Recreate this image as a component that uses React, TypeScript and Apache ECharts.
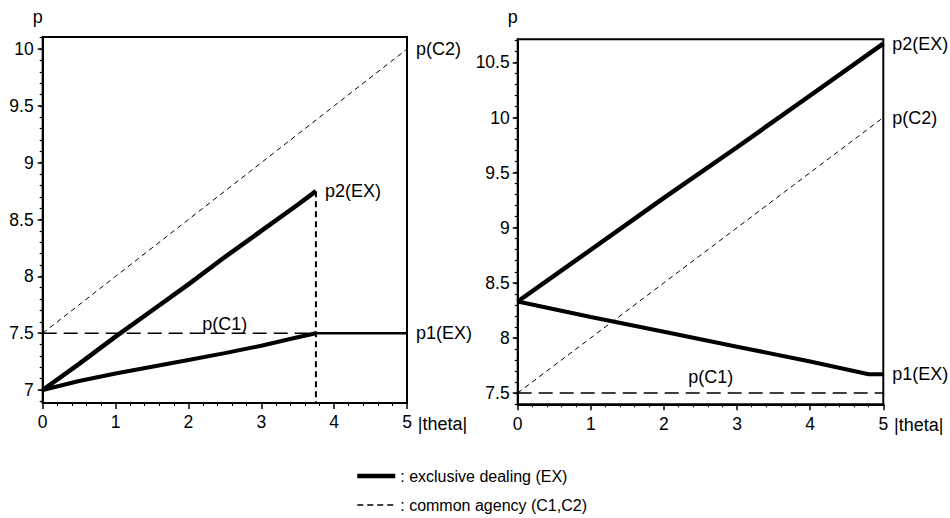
import React, { useEffect, useRef } from "react";
import * as echarts from "echarts";

const FONT = "'Liberation Sans', Arial, Helvetica, sans-serif";
const EX_NAME = "exclusive dealing (EX)";
const CA_NAME = "common agency (C1,C2)";

// ---------- data: left panel ----------
const thetaLeftEx = [0, 0.5, 1, 1.5, 2, 2.5, 3, 3.5, 3.75];
const p2ExLeft = [7.0, 7.23, 7.47, 7.7, 7.93, 8.17, 8.4, 8.63, 8.75];
const p1ExLeft = [7.0, 7.08, 7.145, 7.205, 7.265, 7.325, 7.39, 7.465, 7.5];
const thetaLeftFlat = [3.75, 5];
const p1ExLeftFlat = [7.5, 7.5];
const thetaC2 = [0, 1, 2, 3, 4, 5];
const pC2Left = [7.5, 8.0, 8.5, 9.0, 9.5, 10.0];
const thetaC1Left = [0, 3.75];
const pC1Left = [7.5, 7.5];
const C1_LABEL_THETA_LEFT = 2.5;

// ---------- data: right panel ----------
const thetaP2Right = [0, 1, 2, 3, 4, 5];
const p2ExRight = [8.33, 8.8, 9.27, 9.73, 10.2, 10.67];
const thetaP1Right = [0, 1, 2, 3, 4, 4.8, 5];
const p1ExRight = [8.33, 8.19, 8.055, 7.92, 7.785, 7.67, 7.67];
const pC2Right = [7.5, 8.0, 8.5, 9.0, 9.5, 10.0];
const thetaC1Right = [0, 5];
const pC1Right = [7.5, 7.5];
const C1_LABEL_THETA_RIGHT = 2.64;

// ---------- axes ----------
const xTicks = [0, 1, 2, 3, 4, 5];
const leftYTicks = [7, 7.5, 8, 8.5, 9, 9.5, 10];
const rightYTicks = [7.5, 8, 8.5, 9, 9.5, 10, 10.5];
const LEFT_Y = { min: 6.886, max: 10.106 };
const RIGHT_Y = { min: 7.397, max: 10.71 };

const zip = (xs: number[], ys: number[]) => xs.map((x, i) => [x, ys[i]]);
const minorValues = (min: number, max: number) => {
  const out: number[] = [];
  for (let k = Math.ceil(min * 10); k <= Math.floor(max * 10); k++) out.push(k / 10);
  return out;
};

const txt = { color: "#000", fontFamily: FONT, fontSize: 18 };
const tickTxt = { color: "#000", fontFamily: FONT, fontSize: 17.5 };

function endLabel(text: string) {
  return { show: true, formatter: text, distance: 9, ...txt };
}

export default function App() {
  const ref = useRef<HTMLDivElement>(null);
  useEffect(() => {
    if (!ref.current) return;
    const chart = echarts.init(ref.current, null, { renderer: "svg" });

    const xAxisBase = (gridIndex: number, nameGap: number, margin: number) => ({
      type: "value",
      gridIndex,
      min: 0,
      max: 5,
      interval: 1,
      name: "|theta|",
      nameLocation: "end",
      nameGap,
      nameTextStyle: { ...txt, align: "left", verticalAlign: "top", padding: [12, 0, 0, 0] },
      axisLine: { show: true, onZero: false, lineStyle: { color: "#000", width: 2 } },
      axisTick: { show: true, length: 6, lineStyle: { color: "#000", width: 1.5 } },
      minorTick: { show: true, splitNumber: 5, length: 3, lineStyle: { color: "#000", width: 1 } },
      axisLabel: { ...tickTxt, margin, formatter: (v: number) => String(v), customValues: xTicks },
      splitLine: { show: false },
    });

    const yMain = (gridIndex: number, range: { min: number; max: number }, ticks: number[], nameGap: number, margin: number) => ({
      type: "value",
      gridIndex,
      position: "left",
      min: range.min,
      max: range.max,
      name: "p",
      nameLocation: "end",
      nameGap,
      nameTextStyle: { ...txt, align: "right" },
      axisLine: { show: true, onZero: false, lineStyle: { color: "#000", width: 2 } },
      axisTick: { show: true, length: 5, customValues: ticks, lineStyle: { color: "#000", width: 1.5 } },
      axisLabel: { ...tickTxt, margin, customValues: ticks, formatter: (v: number) => String(v) },
      splitLine: { show: false },
    });

    const yMinor = (gridIndex: number, range: { min: number; max: number }) => ({
      type: "value",
      gridIndex,
      position: "left",
      min: range.min,
      max: range.max,
      axisLine: { show: false },
      axisTick: { show: true, length: 3, customValues: minorValues(range.min, range.max), lineStyle: { color: "#000", width: 1.2 } },
      axisLabel: { show: false },
      splitLine: { show: false },
    });

    const base = { type: "line", symbol: "none", showSymbol: false, silent: true, z: 3, color: "#000", itemStyle: { color: "#000" } };

    const option = {
      animation: false,
      backgroundColor: "#fff",
      color: ["#000"],
      textStyle: { fontFamily: FONT },
      grid: [
        { left: 42.7, top: 37, width: 364.3, height: 366, show: true, borderColor: "#000", borderWidth: 2, backgroundColor: "transparent" },
        { left: 517.7, top: 39.3, width: 365.6, height: 365, show: true, borderColor: "#000", borderWidth: 2, backgroundColor: "transparent" },
      ],
      xAxis: [xAxisBase(0, 8, 10), xAxisBase(1, 4, 11)],
      yAxis: [
        yMain(0, LEFT_Y, leftYTicks, 11, 9),
        yMain(1, RIGHT_Y, rightYTicks, 13, 8),
        yMinor(0, LEFT_Y),
        yMinor(1, RIGHT_Y),
      ],
      legend: {
        orient: "vertical",
        left: 355,
        top: 468,
        padding: 0,
        itemWidth: 38,
        itemHeight: 14,
        itemGap: 13,
        selectedMode: false,
        formatter: (n: string) => ": " + n,
        textStyle: { color: "#000", fontFamily: FONT, fontSize: 16, lineHeight: 14 },
        data: [
          { name: EX_NAME, lineStyle: { width: 4.5, type: "solid", color: "#000" }, itemStyle: { opacity: 0 } },
          { name: CA_NAME, lineStyle: { width: 1.5, type: [6, 4], color: "#000" }, itemStyle: { opacity: 0 } },
        ],
      },
      series: [
        // ---------- left panel ----------
        {
          ...base, name: EX_NAME, xAxisIndex: 0, yAxisIndex: 0,
          data: zip(thetaLeftEx, p2ExLeft),
          lineStyle: { color: "#000", width: 4.5 },
          endLabel: endLabel("p2(EX)"),
        },
        {
          ...base, name: EX_NAME, xAxisIndex: 0, yAxisIndex: 0,
          data: zip(thetaLeftEx, p1ExLeft),
          lineStyle: { color: "#000", width: 4 },
        },
        {
          ...base, name: EX_NAME, xAxisIndex: 0, yAxisIndex: 0,
          data: zip(thetaLeftFlat, p1ExLeftFlat),
          lineStyle: { color: "#000", width: 2.5 },
          endLabel: endLabel("p1(EX)"),
        },
        {
          ...base, name: CA_NAME, xAxisIndex: 0, yAxisIndex: 0,
          data: zip(thetaC2, pC2Left),
          lineStyle: { color: "#000", width: 1, type: [5, 4] },
          endLabel: endLabel("p(C2)"),
        },
        {
          ...base, name: CA_NAME, xAxisIndex: 0, yAxisIndex: 0,
          data: zip(thetaC1Left, pC1Left),
          lineStyle: { color: "#000", width: 1.5, type: [14, 7] },
          markPoint: {
            symbol: "circle", symbolSize: 0, silent: true,
            label: { show: true, formatter: "p(C1)", position: "top", distance: 0, ...txt },
            data: [{ coord: [C1_LABEL_THETA_LEFT, pC1Left[0]] }],
          },
        },
        {
          ...base, name: "cut", xAxisIndex: 0, yAxisIndex: 0,
          data: [
            [thetaLeftEx[thetaLeftEx.length - 1], p2ExLeft[p2ExLeft.length - 1]],
            [thetaLeftEx[thetaLeftEx.length - 1], LEFT_Y.min],
          ],
          lineStyle: { color: "#000", width: 2, type: [6, 4] },
        },
        // ---------- right panel ----------
        {
          ...base, name: EX_NAME, xAxisIndex: 1, yAxisIndex: 1,
          data: zip(thetaP2Right, p2ExRight),
          lineStyle: { color: "#000", width: 4.5 },
          endLabel: endLabel("p2(EX)"),
        },
        {
          ...base, name: EX_NAME, xAxisIndex: 1, yAxisIndex: 1,
          data: zip(thetaP1Right, p1ExRight),
          lineStyle: { color: "#000", width: 4 },
          endLabel: endLabel("p1(EX)"),
        },
        {
          ...base, name: CA_NAME, xAxisIndex: 1, yAxisIndex: 1,
          data: zip(thetaC2, pC2Right),
          lineStyle: { color: "#000", width: 1, type: [5, 4] },
          endLabel: endLabel("p(C2)"),
        },
        {
          ...base, name: CA_NAME, xAxisIndex: 1, yAxisIndex: 1,
          data: zip(thetaC1Right, pC1Right),
          lineStyle: { color: "#000", width: 1.5, type: [14, 7] },
          markPoint: {
            symbol: "circle", symbolSize: 0, silent: true,
            label: { show: true, formatter: "p(C1)", position: "top", distance: 7, ...txt },
            data: [{ coord: [C1_LABEL_THETA_RIGHT, pC1Right[0]] }],
          },
        },
      ],
    };

    chart.setOption(option as any);
    return () => chart.dispose();
  }, []);

  return (
    <div
      ref={ref}
      style={{ position: "absolute", left: 0, top: 0, width: 950, height: 518, background: "#fff" }}
    />
  );
}
